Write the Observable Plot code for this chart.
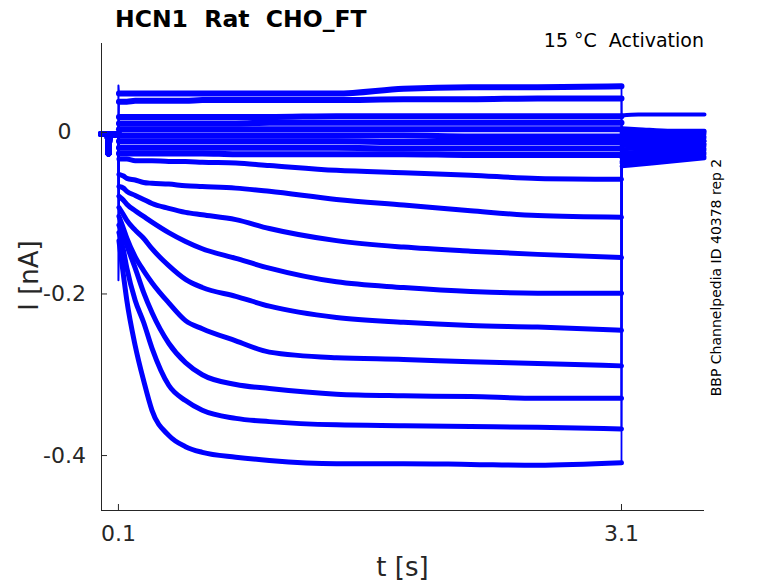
<!DOCTYPE html>
<html>
<head>
<meta charset="utf-8">
<script src="https://cdn.jsdelivr.net/npm/d3@7"></script>
<script src="https://cdn.jsdelivr.net/npm/@observablehq/plot@0.6"></script>
<style>
  body { margin: 0; background: #fff; }
  svg { display: block; }
</style>
</head>
<body>
<div id="chart"></div>
<script>
// ---- data ----
const titleText = "HCN1  Rat  CHO_FT";
const condText = "15 °C  Activation";
const sideText = "BBP Channelpedia ID 40378 rep 2";
const xLabel = "t [s]";
const yLabel = "I [nA]";
const xTicks = [0.1, 3.1];
const yTicks = [0, -0.2, -0.4];
const xDomain = [-0.001, 3.595];
const yDomain = [-0.468, 0.110];

// pre-step holding segment (s, nA)
const preT = [-0.003, 0.03, 0.037, 0.041, 0.046, 0.1];
const preV = [-0.002, -0.002, -0.005, -0.026, -0.003, -0.002];

// step segment time grid (s)
const stepT = [0.103, 0.13, 0.15, 0.2, 0.25, 0.3, 0.4, 0.5, 0.6, 0.8, 1.0, 1.4, 1.8, 2.2, 2.6, 3.1];
// tail segment time grid (s)
const tailT = [3.1005, 3.2, 3.4, 3.595];

const traceIds = ["U1","U2","U3","U4","U5","U6","U7","U8","U9","L1","L2","L3","L4","L5","L6","L7","L8","L9"];
const upperIds = ["U1","U2","U3","U4","U5","U6","U7","U8","U9"];

// capacitive transient at step onset (nA), null = none
const onsetSpike = [0.058, null, null, null, null, null, null, null, null, null, null, null, null, null, null, null, null, -0.183];

// step currents (nA) at stepT
const U1 = [0.048,0.048,0.048,0.048,0.048,0.048,0.048,0.048,0.048,0.048,0.048,0.048,0.054,0.056,0.056,0.057];
const U2 = [0.038,0.038,0.038,0.039,0.039,0.039,0.039,0.039,0.040,0.040,0.040,0.040,0.041,0.041,0.042,0.042];
const U3 = [0.019,0.019,0.019,0.019,0.019,0.019,0.019,0.019,0.019,0.019,0.019,0.020,0.020,0.020,0.020,0.020];
const U4 = [0.011,0.011,0.011,0.011,0.011,0.011,0.011,0.011,0.011,0.011,0.012,0.012,0.012,0.012,0.012,0.012];
const U5 = [0.004,0.004,0.004,0.004,0.004,0.004,0.004,0.004,0.004,0.004,0.004,0.004,0.004,0.004,0.004,0.004];
const U6 = [-0.004,-0.004,-0.004,-0.004,-0.004,-0.004,-0.004,-0.004,-0.004,-0.004,-0.004,-0.004,-0.004,-0.005,-0.005,-0.005];
const U7 = [-0.011,-0.011,-0.011,-0.011,-0.011,-0.011,-0.011,-0.011,-0.011,-0.011,-0.011,-0.011,-0.012,-0.012,-0.012,-0.012];
const U8 = [-0.019,-0.019,-0.019,-0.019,-0.019,-0.019,-0.019,-0.019,-0.019,-0.019,-0.019,-0.019,-0.020,-0.020,-0.020,-0.020];
const U9 = [-0.026,-0.026,-0.026,-0.026,-0.026,-0.026,-0.026,-0.026,-0.026,-0.027,-0.027,-0.027,-0.027,-0.028,-0.028,-0.028];
const L1 = [-0.033,-0.033,-0.033,-0.035,-0.035,-0.035,-0.036,-0.036,-0.037,-0.038,-0.041,-0.047,-0.050,-0.053,-0.057,-0.058];
const L2 = [-0.052,-0.054,-0.057,-0.059,-0.062,-0.063,-0.064,-0.066,-0.067,-0.069,-0.073,-0.083,-0.090,-0.097,-0.103,-0.105];
const L3 = [-0.067,-0.069,-0.073,-0.078,-0.083,-0.088,-0.094,-0.099,-0.102,-0.108,-0.119,-0.134,-0.142,-0.147,-0.151,-0.155];
const L4 = [-0.079,-0.084,-0.089,-0.097,-0.104,-0.111,-0.124,-0.135,-0.144,-0.156,-0.168,-0.185,-0.192,-0.197,-0.199,-0.199];
const L5 = [-0.093,-0.102,-0.109,-0.121,-0.131,-0.144,-0.165,-0.182,-0.192,-0.203,-0.215,-0.229,-0.235,-0.239,-0.241,-0.245];
const L6 = [-0.104,-0.119,-0.131,-0.154,-0.171,-0.186,-0.211,-0.233,-0.243,-0.258,-0.272,-0.279,-0.281,-0.284,-0.286,-0.289];
const L7 = [-0.115,-0.128,-0.140,-0.168,-0.198,-0.223,-0.261,-0.285,-0.300,-0.312,-0.317,-0.324,-0.326,-0.327,-0.329,-0.329];
const L8 = [-0.124,-0.146,-0.168,-0.208,-0.235,-0.267,-0.313,-0.332,-0.344,-0.354,-0.358,-0.362,-0.363,-0.364,-0.365,-0.367];
const L9 = [-0.134,-0.177,-0.208,-0.264,-0.307,-0.344,-0.375,-0.389,-0.396,-0.402,-0.406,-0.410,-0.410,-0.411,-0.412,-0.409];
const stepValues = [U1,U2,U3,U4,U5,U6,U7,U8,U9,L1,L2,L3,L4,L5,L6,L7,L8,L9];

// tail currents (nA) at tailT
const tailValues = [
  [0.021, 0.022, 0.022, 0.022],
  [0.005, 0.004, 0.002, 0.002],
  [0.004, 0.002, 0.001, 0.001],
  [0.001, 0.000, 0.000, 0.000],
  [-0.001, -0.001, -0.002, -0.002],
  [-0.004, -0.004, -0.005, -0.005],
  [-0.006, -0.006, -0.007, -0.007],
  [-0.009, -0.009, -0.009, -0.010],
  [-0.011, -0.011, -0.011, -0.011],
  [-0.014, -0.014, -0.014, -0.014],
  [-0.017, -0.016, -0.016, -0.015],
  [-0.021, -0.020, -0.019, -0.017],
  [-0.025, -0.024, -0.022, -0.020],
  [-0.028, -0.027, -0.025, -0.022],
  [-0.032, -0.031, -0.028, -0.025],
  [-0.036, -0.033, -0.031, -0.027],
  [-0.038, -0.036, -0.033, -0.030],
  [-0.042, -0.040, -0.036, -0.032]
];

// ---- build tables ----
const preRows = [], onsetRows = [], stepRows = [], endRows = [], tailRows = [];
traceIds.forEach((id, i) => {
  preT.forEach((t, j) => preRows.push({id, t, v: preV[j]}));
  const last = preV[preV.length - 1];
  onsetRows.push({id, t: preT[preT.length - 1], v: last});
  if (onsetSpike[i] !== null) onsetRows.push({id, t: preT[preT.length - 1], v: onsetSpike[i]});
  onsetRows.push({id, t: stepT[0], v: stepValues[i][0]});
  stepT.forEach((t, j) => stepRows.push({id, t, v: stepValues[i][j]}));
  endRows.push({id, t: stepT[stepT.length - 1], v: stepValues[i][stepT.length - 1]});
  endRows.push({id, t: tailT[0], v: tailValues[i][0]});
  tailT.forEach((t, j) => tailRows.push({id, t, v: tailValues[i][j]}));
});
const upperRows = stepRows.filter(r => upperIds.includes(r.id));
const lowerRows = stepRows.filter(r => !upperIds.includes(r.id));

const blue = "#0000ff";
const ink = "#262626";
const fmtY = d => d === 0 ? "0" : String(d);

const plot = Plot.plot({
  width: 778,
  height: 583,
  marginLeft: 101,
  marginRight: 74,
  marginTop: 43,
  marginBottom: 73,
  style: {fontFamily: "DejaVu Sans", background: "#fff", overflow: "visible"},
  x: {domain: xDomain, label: null},
  y: {domain: yDomain, label: null},
  marks: [
    Plot.line(preRows, {x: "t", y: "v", z: "id", stroke: blue, strokeWidth: 6}),
    Plot.line(onsetRows, {x: "t", y: "v", z: "id", stroke: blue, strokeWidth: 2}),
    Plot.line(upperRows, {x: "t", y: "v", z: "id", stroke: blue, strokeWidth: 6, curve: "monotone-x"}),
    Plot.line(lowerRows, {x: "t", y: "v", z: "id", stroke: blue, strokeWidth: 5, curve: "monotone-x", strokeLinejoin: "round"}),
    Plot.line(endRows, {x: "t", y: "v", z: "id", stroke: blue, strokeWidth: 1.8}),
    Plot.line(tailRows, {x: "t", y: "v", z: "id", stroke: blue, strokeWidth: 4, curve: "monotone-x"}),
    Plot.ruleX([xDomain[0]], {stroke: ink, strokeWidth: 1}),
    Plot.ruleY([yDomain[0]], {stroke: ink, strokeWidth: 1}),
    Plot.axisY({ticks: yTicks, tickSize: -6, tickFormat: () => "", stroke: ink}),
    Plot.axisY({ticks: yTicks, tickSize: 0, tickPadding: 37, textAnchor: "middle", tickFormat: fmtY, fontSize: 22, fill: ink}),
    Plot.axisX({ticks: xTicks, tickSize: -6, tickFormat: () => "", stroke: ink}),
    Plot.axisX({ticks: xTicks, tickSize: 0, tickPadding: 15, tickFormat: d => d.toFixed(1), fontSize: 22, fill: ink})
  ]
});

document.getElementById("chart").appendChild(plot);

const svg = d3.select(plot);
svg.append("text")
  .attr("x", 115).attr("y", 27).attr("text-anchor", "start")
  .attr("font-family", "DejaVu Sans").attr("font-weight", "bold").attr("font-size", 23.5)
  .attr("fill", "#000")
  .text(titleText);
svg.append("text")
  .attr("x", 704).attr("y", 47).attr("text-anchor", "end")
  .attr("font-family", "DejaVu Sans").attr("font-size", 19)
  .attr("fill", "#000")
  .text(condText);
svg.append("text")
  .attr("transform", "translate(721,277.5) rotate(-90)")
  .attr("text-anchor", "middle")
  .attr("font-family", "DejaVu Sans").attr("font-size", 14)
  .attr("fill", "#000")
  .text(sideText);
svg.append("text")
  .attr("transform", "translate(38,275.5) rotate(-90)")
  .attr("text-anchor", "middle")
  .attr("font-family", "DejaVu Sans").attr("font-size", 26)
  .attr("fill", ink)
  .text(yLabel);
svg.append("text")
  .attr("x", 402.5).attr("y", 576).attr("text-anchor", "middle")
  .attr("font-family", "DejaVu Sans").attr("font-size", 26)
  .attr("fill", ink)
  .text(xLabel);
</script>
</body>
</html>
